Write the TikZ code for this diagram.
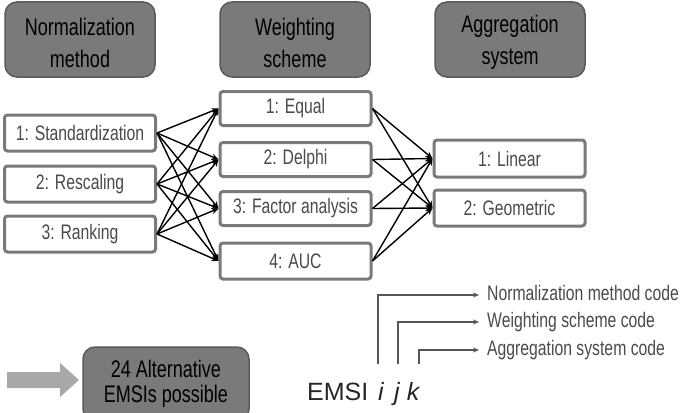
\documentclass[tikz,border=0pt]{standalone}
\usepackage{fontspec}
\setmainfont[FakeStretch=0.75]{Liberation Sans}
\newfontfamily\emsifont{Liberation Sans}
\usetikzlibrary{arrows.meta}
\definecolor{hdrfill}{HTML}{7A7A7A}
\definecolor{hdredge}{HTML}{5A5A5A}
\definecolor{hdrtext}{HTML}{000000}
\definecolor{boxedge}{HTML}{7A7A7A}
\definecolor{boxtext}{HTML}{4A4A4A}
\definecolor{pointer}{HTML}{A8A8A8}
\definecolor{codegray}{HTML}{555555}
\tikzset{
    header/.style={draw=hdredge, line width=1.5pt, rounded corners=12pt,
        fill=hdrfill, minimum width=150pt, minimum height=75pt},
    hdrlabel/.style={text=hdrtext, align=center,
        font=\fontsize{24}{32}\selectfont},
    option/.style={draw=boxedge, line width=3pt, rounded corners=3pt,
        fill=white, text=boxtext, minimum width=151pt, minimum height=34pt,
        inner sep=0pt, font=\fontsize{21}{24}\selectfont},
    link/.style={line width=1.4pt, -{Stealth[length=7pt,width=6pt]}},
    codeline/.style={draw=codegray, line width=1.2pt,
        -{Stealth[length=6pt,width=5pt]}},
    codetext/.style={anchor=west, text=boxtext, inner sep=0pt,
        text height=15pt, text depth=4pt, font=\fontsize{21}{24}\selectfont},
    letter/.style={anchor=base, inner sep=0pt, text=black!85,
        font=\emsifont\fontsize{25}{28}\selectfont\itshape},
}
\begin{document}
\begin{tikzpicture}[x=1pt, y=-1pt]
    \useasboundingbox (0,0) rectangle (690,412);
    % column headers
    \node[header] (hnorm) at (80,39.5) {};
    \node[header] (hweight) at (295,39.5) {};
    \node[header] (haggr) at (510,39.5) {};
    \node[hdrlabel] (tnorm) at ([yshift=-3pt]hnorm.center) {Normalization\\method};
    \node[hdrlabel] (tweight) at ([yshift=-3pt]hweight.center) {Weighting\\scheme};
    \node[hdrlabel] (taggr) at ([yshift=-3pt]haggr.center) {Aggregation\\system};
    % normalization methods
    \node[option, minimum height=36pt] (n1) at (80,133) {1: Standardization};
    \node[option, minimum height=36pt] (n2) at (80,184) {2: Rescaling};
    \node[option, minimum height=36pt] (n3) at (80,234) {3: Ranking};
    % weighting schemes
    \node[option] (w1) at (295.5,108.5) {1: Equal};
    \node[option] (w2) at (295.5,159.5) {2: Delphi};
    \node[option] (w3) at (295.5,208.5) {3: Factor analysis};
    \node[option, minimum height=36pt] (w4) at (295.5,261) {4: AUC};
    % aggregation systems
    \node[option, minimum height=37pt] (a1) at (509.5,158.5) {1: Linear};
    \node[option, minimum height=36pt] (a2) at (509.5,208) {2: Geometric};
    \foreach \i in {1,2,3} {
        \foreach \j in {1,...,4} {
            \draw[link] (n\i.east) -- (w\j.west);
        }
    };
    \foreach \j in {1,...,4} {
        \foreach \k in {1,2} {
            \draw[link] (w\j.east) -- (a\k.west);
        }
    };
    % result
    \fill[pointer] (7,372) -- (60,372) -- (60,363) -- (79,380) -- (60,397)
        -- (60,388) -- (7,388) -- cycle;
    \node[header, minimum width=166pt, minimum height=74pt] (alt) at (166,384) {};
    \node[hdrlabel, font=\fontsize{24}{25}\selectfont] (talt) at (alt.center)
        {24 Alternative\\EMSIs possible};
    % code legend
    \node[anchor=base west, inner sep=0pt, text=black!85,
        font=\emsifont\fontsize{25}{28}\selectfont] (emsi) at (307,400) {EMSI};
    \node[letter] (ci) at (381,400) {i};
    \node[letter] (cj) at (397,400) {j};
    \node[letter] (ck) at (413,400) {k};
    \node[codetext] (cnorm) at (487,295) {Normalization method code};
    \node[codetext] (cweight) at (487,322) {Weighting scheme code};
    \node[codetext] (caggr) at (487,350) {Aggregation system code};
    \draw[codeline] ([xshift=-3pt, yshift=18pt]ci.north) |- ([xshift=-8pt]cnorm.west);
    \draw[codeline] ([xshift=1pt, yshift=18pt]cj.north) |- ([xshift=-8pt]cweight.west);
    \draw[codeline] ([xshift=6pt, yshift=18pt]ck.north) |- ([xshift=-8pt]caggr.west);
\end{tikzpicture}
\end{document}
